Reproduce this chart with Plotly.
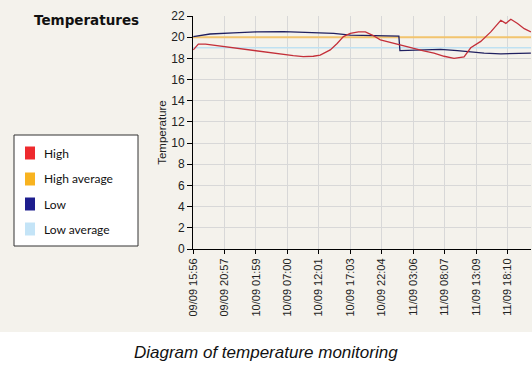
import plotly.graph_objects as go

# ---- data ----
high_time = ["2013-09-09 15:59", "2013-09-09 16:47", "2013-09-09 17:56", "2013-09-09 19:43",
             "2013-09-09 22:23", "2013-09-10 01:03", "2013-09-10 03:43", "2013-09-10 06:23",
             "2013-09-10 07:56", "2013-09-10 09:32", "2013-09-10 11:08", "2013-09-10 12:14",
             "2013-09-10 13:50", "2013-09-10 14:56", "2013-09-10 15:56", "2013-09-10 17:02",
             "2013-09-10 18:20", "2013-09-10 19:26", "2013-09-10 20:32", "2013-09-10 21:50",
             "2013-09-10 23:26", "2013-09-11 01:02", "2013-09-11 03:08", "2013-09-11 04:44",
             "2013-09-11 06:23", "2013-09-11 08:00", "2013-09-11 09:35", "2013-09-11 11:11",
             "2013-09-11 12:15", "2013-09-11 13:51", "2013-09-11 15:27", "2013-09-11 17:03",
             "2013-09-11 17:51", "2013-09-11 18:39", "2013-09-11 19:43", "2013-09-11 20:47",
             "2013-09-11 21:51"]
high_vals = [18.8, 19.35, 19.35, 19.2, 19.0, 18.8, 18.6, 18.35,
             18.25, 18.17, 18.2, 18.3, 18.8, 19.4, 20.05, 20.35,
             20.5, 20.5, 20.2, 19.75, 19.5, 19.27, 18.96, 18.7,
             18.5, 18.2, 18.0, 18.15, 19.0, 19.6, 20.5, 21.6,
             21.3, 21.7, 21.3, 20.8, 20.5]

low_time = ["2013-09-09 15:59", "2013-09-09 18:39", "2013-09-09 22:23", "2013-09-10 02:07",
            "2013-09-10 06:23", "2013-09-10 08:31", "2013-09-10 10:39", "2013-09-10 14:23",
            "2013-09-10 17:03", "2013-09-10 19:43", "2013-09-10 21:19", "2013-09-11 00:47",
            "2013-09-11 00:57", "2013-09-11 03:43", "2013-09-11 07:27", "2013-09-11 10:07",
            "2013-09-11 12:15", "2013-09-11 14:23", "2013-09-11 17:03", "2013-09-11 21:19",
            "2013-09-11 21:51"]
low_vals = [20.05, 20.3, 20.4, 20.5, 20.53, 20.5, 20.4, 20.35, 20.2, 20.15, 20.1, 20.1,
            18.74, 18.8, 18.85, 18.74, 18.6, 18.5, 18.43, 18.43, 18.5]

avg_time = ["2013-09-09 15:56", "2013-09-11 21:52"]
high_avg = [20.0, 20.0]
low_avg = [19.0, 19.0]

tick_vals = ["2013-09-09 15:56", "2013-09-09 20:57", "2013-09-10 01:59", "2013-09-10 07:00",
             "2013-09-10 12:01", "2013-09-10 17:03", "2013-09-10 22:04", "2013-09-11 03:06",
             "2013-09-11 08:07", "2013-09-11 13:09", "2013-09-11 18:10"]
tick_text = ["09/09 15:56", "09/09 20:57", "10/09 01:59", "10/09 07:00", "10/09 12:01",
             "10/09 17:03", "10/09 22:04", "11/09 03:06", "11/09 08:07", "11/09 13:09",
             "11/09 18:10"]

series_names = ["High", "High average", "Low", "Low average"]
legend_colors = ["#ee2a2e", "#f8b320", "#1e1e8e", "#c4e4f7"]

# ---- layout geometry (pixels) ----
W, H = 532, 367
ML, MR, MT, MB = 193, 1, 16, 118
PW, PH = W - ML - MR, H - MT - MB


def px(x):
    return (x - ML) / PW


def py(y):
    return (H - MB - y) / PH


fig = go.Figure()

fig.add_trace(go.Scatter(x=avg_time, y=low_avg, mode="lines",
                         line=dict(color="#bfe1f2", width=1.5), showlegend=False))
fig.add_trace(go.Scatter(x=avg_time, y=high_avg, mode="lines",
                         line=dict(color="#f2c46e", width=2), showlegend=False))
fig.add_trace(go.Scatter(x=low_time, y=low_vals, mode="lines",
                         line=dict(color="#202060", width=1.3), showlegend=False))
fig.add_trace(go.Scatter(x=high_time, y=high_vals, mode="lines",
                         line=dict(color="#c4303a", width=1.3), showlegend=False))

shapes = [
    dict(type="rect", xref="paper", yref="paper",
         x0=px(-5), x1=px(540), y0=py(332), y1=py(-5),
         fillcolor="#f4f2ec", line=dict(width=0), layer="below"),
    dict(type="rect", xref="paper", yref="paper",
         x0=px(14), x1=px(138), y0=py(246), y1=py(135),
         fillcolor="#ffffff", line=dict(color="#333333", width=1), layer="above"),
]
annotations = [
    dict(text="<b>Temperatures</b>", xref="paper", yref="paper",
         x=px(32), y=py(20), xanchor="left", yanchor="middle", showarrow=False,
         font=dict(family="DejaVu Sans", size=13.5, color="#111111")),
    dict(text="<i>Diagram of temperature monitoring</i>", xref="paper", yref="paper",
         x=px(266), y=py(352), xanchor="center", yanchor="middle", showarrow=False,
         font=dict(family="Liberation Sans", size=17, color="#111111")),
]
item_y = [153, 179, 204, 229]
for nm, col, yy in zip(series_names, legend_colors, item_y):
    shapes.append(dict(type="rect", xref="paper", yref="paper",
                       x0=px(25), x1=px(35), y0=py(yy + 6.5), y1=py(yy - 6.5),
                       fillcolor=col, line=dict(width=0), layer="above"))
    annotations.append(dict(text=nm, xref="paper", yref="paper",
                            x=px(42), y=py(yy), xanchor="left", yanchor="middle",
                            showarrow=False,
                            font=dict(family="Lato", size=12, color="#111111")))

fig.update_layout(
    width=W, height=H,
    margin=dict(l=ML, r=MR, t=MT, b=MB),
    paper_bgcolor="#ffffff",
    plot_bgcolor="#f8f7f3",
    font=dict(family="Liberation Sans", color="#222222"),
    showlegend=False,
    shapes=shapes,
    annotations=annotations,
)

fig.update_xaxes(type="date", range=["2013-09-09 15:56", "2013-09-11 21:52"],
                 tickmode="array", tickvals=tick_vals, ticktext=tick_text,
                 tickangle=-90, tickfont=dict(size=11, color="#222222"),
                 ticks="outside", ticklen=4, tickcolor="#000000",
                 showline=True, linecolor="#000000", linewidth=1, automargin=False,
                 showgrid=True, gridcolor="#d8d8d8", gridwidth=1, zeroline=False)
fig.update_yaxes(range=[0, 22], dtick=2, tickfont=dict(size=12, color="#222222"),
                 ticks="outside", ticklen=5, tickcolor="#000000",
                 showline=True, linecolor="#000000", linewidth=1, automargin=False,
                 showgrid=True, gridcolor="#d8d8d8", gridwidth=1, zeroline=False,
                 title=dict(text="Temperature", font=dict(size=11.5, color="#222222"),
                            standoff=2))

fig.write_html("out.html", config={"displayModeBar": False},
               post_script="document.body.style.margin='0';"
                           "document.body.style.overflow='hidden';")
